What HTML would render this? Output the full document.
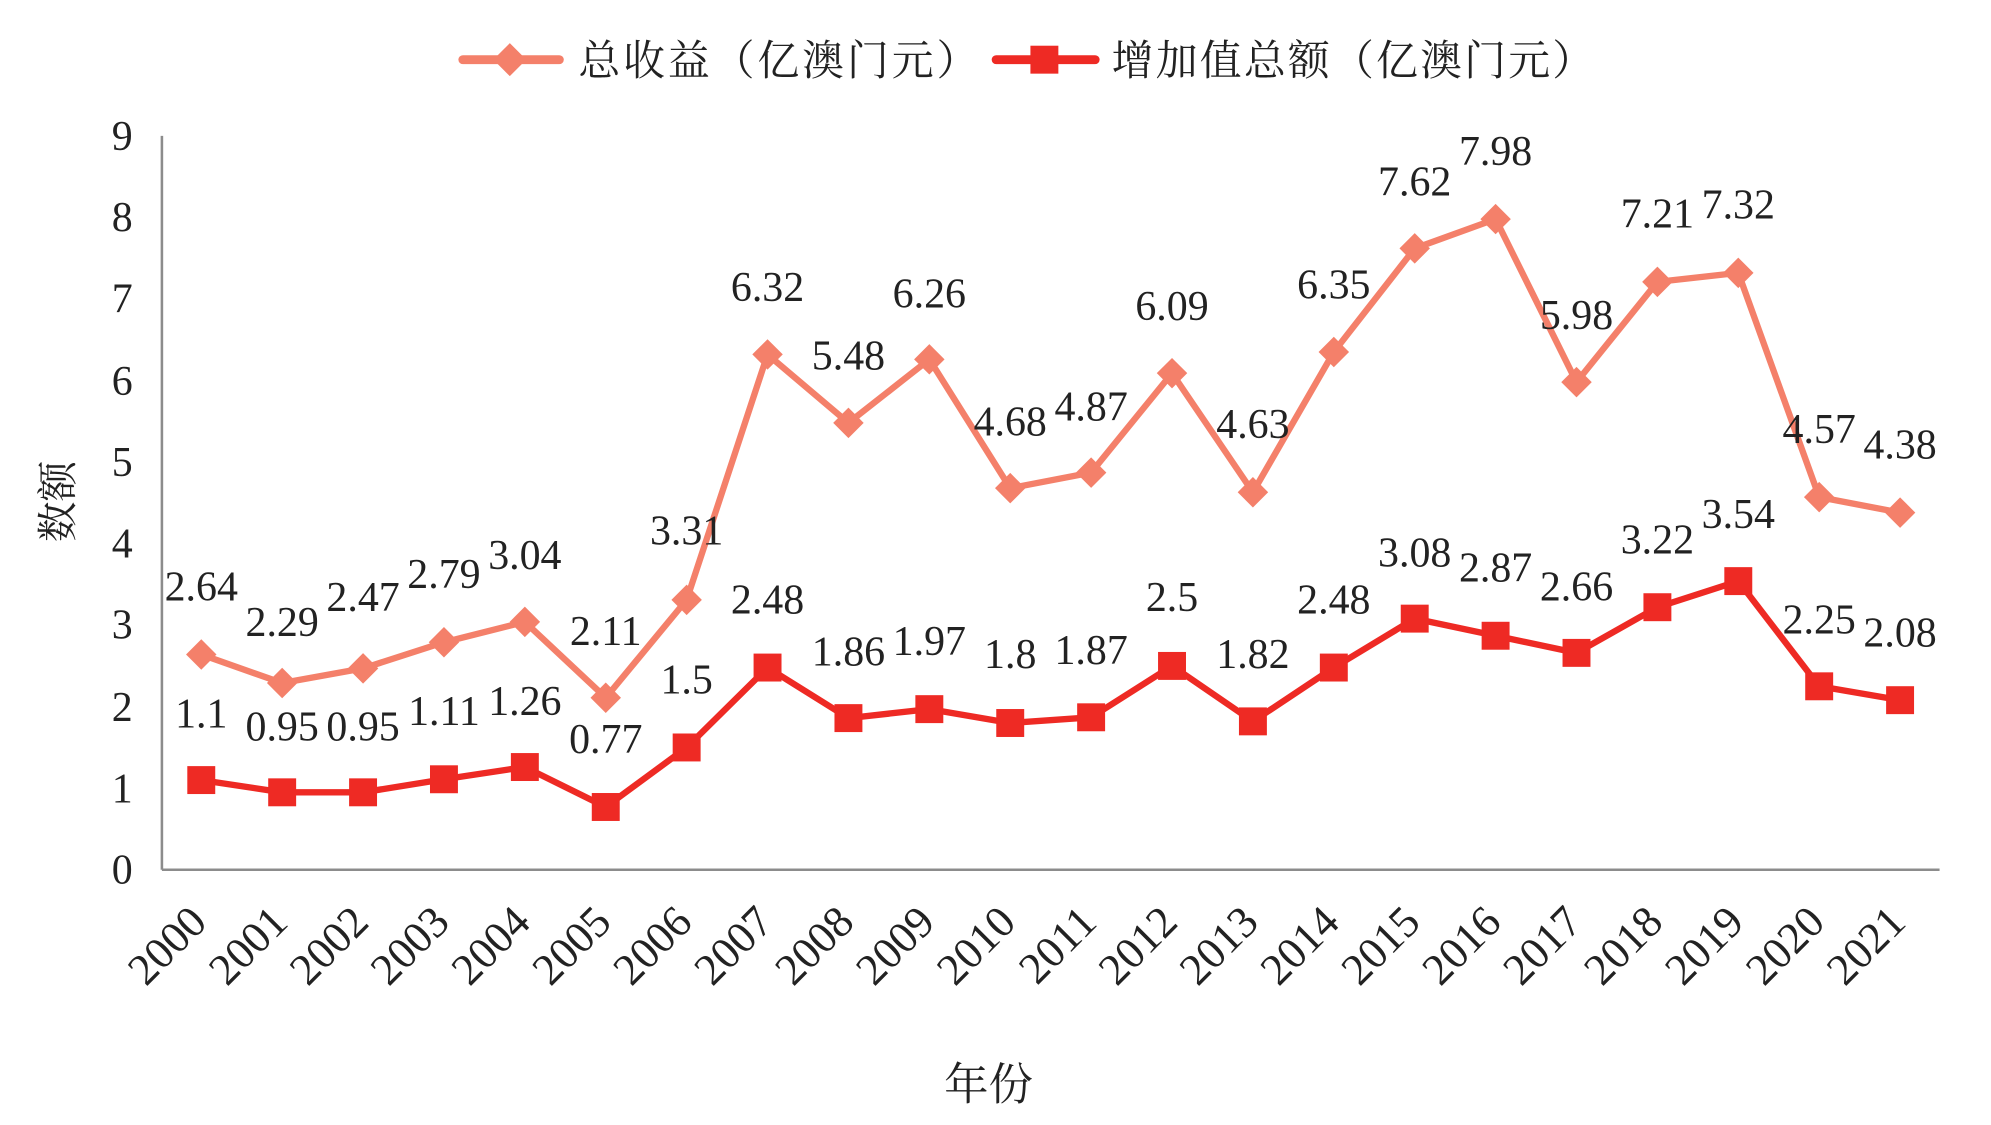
<!DOCTYPE html>
<html><head><meta charset="utf-8"><style>
html,body{margin:0;padding:0;background:#fff;width:1991px;height:1125px;overflow:hidden}
svg{display:block}
text{font-family:"Liberation Serif","Noto Serif CJK SC",serif;fill:#222}
</style></head><body>
<svg id="c" width="1991" height="1125" viewBox="0 0 1567 886" xmlns="http://www.w3.org/2000/svg">
<line x1="127" y1="107" x2="127" y2="685" stroke="#8c8c8c" stroke-width="2"/>
<line x1="127" y1="685" x2="1527" y2="685" stroke="#8c8c8c" stroke-width="2"/>
<g font-size="33" text-anchor="end">
<text x="104" y="696">0</text><text x="104" y="632">1</text><text x="104" y="568">2</text><text x="104" y="503">3</text><text x="104" y="439">4</text><text x="104" y="375">5</text><text x="104" y="311">6</text><text x="104" y="246">7</text><text x="104" y="182">8</text><text x="104" y="118">9</text>
</g>
<text x="0" y="0" font-size="32" text-anchor="middle" transform="translate(56,395) rotate(-90)">数额</text>
<text x="778" y="866" font-size="35" text-anchor="middle">年份</text>
<line x1="364" y1="47" x2="440" y2="47" stroke="#F4806A" stroke-width="7" stroke-linecap="round"/>
<polygon points="401,34 414,47 401,60 388,47" fill="#F4806A"/>
<text x="455" y="59" font-size="33" textLength="315" lengthAdjust="spacing">总收益（亿澳门元）</text>
<line x1="784" y1="47" x2="862" y2="47" stroke="#EE2A24" stroke-width="7" stroke-linecap="round"/>
<rect x="811" y="36" width="22" height="22" fill="#EE2A24"/>
<text x="875" y="59" font-size="33" textLength="380" lengthAdjust="spacing">增加值总额（亿澳门元）</text>
<g id="g"></g>
</svg>
<script>
var t=[2.64,2.29,2.47,2.79,3.04,2.11,3.31,6.32,5.48,6.26,4.68,4.87,6.09,4.63,6.35,7.62,7.98,5.98,7.21,7.32,4.57,4.38];
var v=[1.1,0.95,0.95,1.11,1.26,0.77,1.5,2.48,1.86,1.97,1.8,1.87,2.5,1.82,2.48,3.08,2.87,2.66,3.22,3.54,2.25,2.08];
var tl=["2.64","2.29","2.47","2.79","3.04","2.11","3.31","6.32","5.48","6.26","4.68","4.87","6.09","4.63","6.35","7.62","7.98","5.98","7.21","7.32","4.57","4.38"];
var ty=[462,490,470,452,437,497,418,226,280,231,332,320,241,334,224,143,119,248,168,161,338,350];
var vl=["1.1","0.95","0.95","1.11","1.26","0.77","1.5","2.48","1.86","1.97","1.8","1.87","2.5","1.82","2.48","3.08","2.87","2.66","3.22","3.54","2.25","2.08"];
var vy=[562,572,572,560,552,582,535,472,513,505,515,512,470,515,472,435,447,462,425,405,488,498];
function X(i){return 158+i*63.71}
function Y(d){return 685-d*64.22}
var s='';
var p1=t.map(function(d,i){return X(i)+','+Y(d)}).join(' ');
var p2=v.map(function(d,i){return X(i)+','+Y(d)}).join(' ');
s+='<polyline points="'+p1+'" fill="none" stroke="#F4806A" stroke-width="5" stroke-linejoin="round"/>';
s+='<polyline points="'+p2+'" fill="none" stroke="#EE2A24" stroke-width="5" stroke-linejoin="round"/>';
for(var i=0;i<22;i++){
 var x=X(i),y=Y(t[i]);
 s+='<polygon points="'+x+','+(y-12)+' '+(x+12)+','+y+' '+x+','+(y+12)+' '+(x-12)+','+y+'" fill="#F4806A"/>';
 y=Y(v[i]);
 s+='<rect x="'+(x-11)+'" y="'+(y-11)+'" width="22" height="22" fill="#EE2A24"/>';
 s+='<text x="'+x+'" y="'+(ty[i]+11)+'" font-size="33" text-anchor="middle">'+tl[i]+'</text>';
 s+='<text x="'+x+'" y="'+(vy[i]+11)+'" font-size="33" text-anchor="middle">'+vl[i]+'</text>';
 s+='<text x="0" y="0" font-size="35" text-anchor="end" transform="translate('+(x+6)+',728) rotate(-45)">'+(2000+i)+'</text>';
}
document.getElementById('g').innerHTML=s;
</script>
</body></html>
